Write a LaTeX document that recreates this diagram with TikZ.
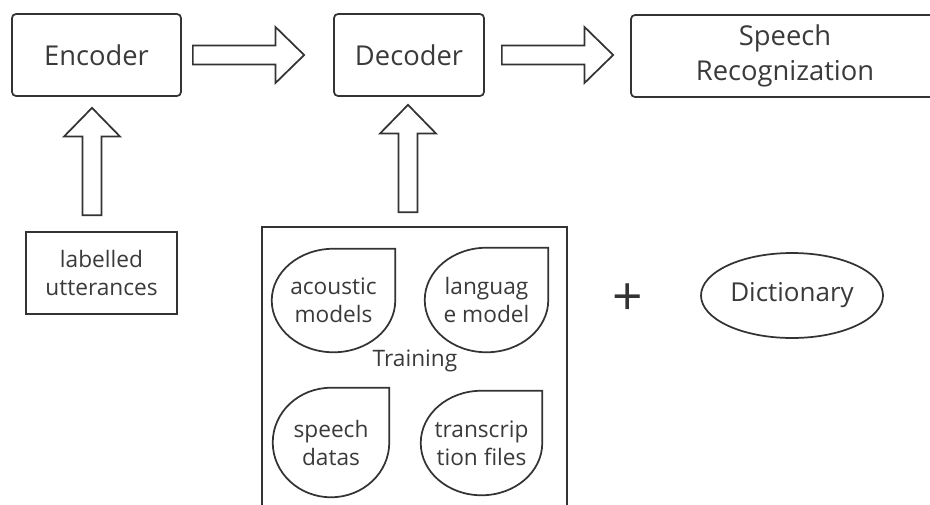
\documentclass[tikz,border=0pt]{standalone}
\usepackage{fontspec}
\setmainfont{Open Sans}
\usetikzlibrary{calc,shapes.geometric}

\definecolor{ink}{HTML}{333333}
\definecolor{txt}{HTML}{3A3A3A}

% shaft half width, head half width, head length of the hollow arrows
\def\sw{7.2pt}
\def\hw{21pt}
\def\hl{21.5pt}

% hollow block arrow, left to right
\newcommand\harrow[2]{%
  \draw[blockarrow] let \p1=(#1), \p2=(#2) in
    ({\x1},{\y1+\sw}) -- ({\x2-\hl},{\y1+\sw}) -- ({\x2-\hl},{\y1+\hw}) --
    ({\x2},{\y1}) -- ({\x2-\hl},{\y1-\hw}) -- ({\x2-\hl},{\y1-\sw}) --
    ({\x1},{\y1-\sw}) -- cycle;}
% hollow block arrow, bottom to top
\newcommand\varrow[2]{%
  \draw[blockarrow] let \p1=(#1), \p2=(#2) in
    ({\x1-\sw},{\y1}) -- ({\x1-\sw},{\y2-\hl}) -- ({\x1-\hw},{\y2-\hl}) --
    ({\x1},{\y2}) -- ({\x1+\hw},{\y2-\hl}) -- ({\x1+\sw},{\y2-\hl}) --
    ({\x1+\sw},{\y1}) -- cycle;}
% rounded drop outline with a sharp upper right corner around a node
\newcommand\dropoutline[1]{%
  \draw[dropline] let \p1=($(#1.east)-(#1.center)$), \p2=($(#1.north)-(#1.center)$) in
    (#1.north east) -- (#1.east)
    arc[start angle=0, end angle=-270, x radius=\x1, y radius=\y2] -- cycle;}

\tikzset{
  wh/.style 2 args={minimum width=#1*0.75pt, minimum height=#2*0.75pt},
  blockarrow/.style={draw=ink, line width=1.3pt, line join=miter},
  bigbox/.style={draw=ink, line width=1.3pt, rounded corners=3pt,
    text=txt, font=\fontsize{20.5}{26}\selectfont, align=center, inner sep=0pt},
  plainbox/.style={draw=ink, line width=1.3pt, text=txt,
    font=\fontsize{17}{21}\selectfont, align=center, inner sep=0pt},
  droptext/.style={text=txt, font=\fontsize{17}{21}\selectfont, align=center,
    inner sep=0pt},
  dropline/.style={draw=ink, line width=1.3pt},
}

\begin{document}
\begin{tikzpicture}[x=0.75pt, y=0.75pt]
  \useasboundingbox (0,0) rectangle (930,-504);
  \clip (0,0) rectangle (930,-504);

  % top row
  \node[bigbox, wh={169}{82}] (enc) at (96.5,-55) {Encoder};
  \node[bigbox, wh={150}{82}] (dec) at (409,-55) {Decoder};
  \node[bigbox, wh={308}{82}] (sr) at (785,-56) {Speech\\Recognization};

  % inputs
  \node[plainbox, wh={151}{82}] (lab) at (101.5,-273) {labelled\\utterances};
  \node[draw=ink, line width=1.3pt, wh={305}{290}, inner sep=0pt] (box)
    at (414.5,-372) {};
  \node[droptext] (tr) at (415,-361) {Training};

  % training resources
  \node[droptext, wh={123}{103}] (am) at (333.5,-300.5) {acoustic\\models};
  \node[droptext, wh={123}{104}] (lm) at (486.5,-300) {languag\\e model};
  \node[droptext, wh={116}{109}] (sd) at (331,-442.5) {speech\\datas};
  \node[droptext, wh={121}{104}] (tf) at (481.5,-443) {transcrip\\tion files};
  \dropoutline{am}
  \dropoutline{lm}
  \dropoutline{sd}
  \dropoutline{tf}

  % dictionary
  \node[text=ink, font=\fontsize{40}{40}\selectfont, inner sep=0pt] (plus)
    at (628,-300) {+};
  \node[ellipse, draw=ink, line width=1.3pt, wh={182}{85}, inner sep=0pt,
        text=txt, font=\fontsize{19.5}{24}\selectfont] (dict)
    at (792,-295.5) {Dictionary};

  % flow arrows
  \harrow{$(enc.east)+(11,0)$}{$(dec.west)+(-29,0)$}
  \harrow{$(dec.east)+(17,0)$}{$(sr.west)+(-17,0)$}
  \varrow{$(lab.north)+(-9.5,16)$}{$(enc.south)+(-4.5,-11)$}
  \varrow{$(box.north)+(-6.5,14)$}{$(dec.south)+(-1,-8)$}
\end{tikzpicture}
\end{document}
